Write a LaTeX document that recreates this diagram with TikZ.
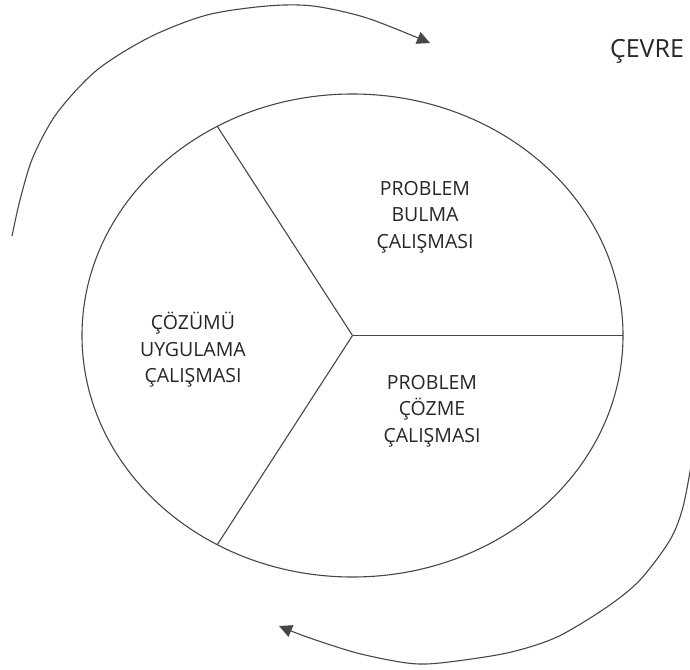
\documentclass[tikz,border=0pt]{standalone}
\usepackage{fontspec}
\setmainfont{Open Sans}
\usetikzlibrary{arrows.meta}
\begin{document}
\begin{tikzpicture}[x=1pt,y=-1pt,
  rim/.style={draw=black!72, line width=1.1pt},
  lbl/.style={align=center, font=\fontsize{19.5}{26.5}\selectfont, text=black!85, inner sep=0pt},
  cyc/.style={rim, -{Triangle[length=13pt,width=12.5pt]}}]
\useasboundingbox (0,0) rectangle (690,669);
% circle and dividers
\coordinate (c) at (352.5,335.5);
\coordinate (r) at (623,335.5);
\coordinate (tl) at (217.3,126.4);
\coordinate (bl) at (217.3,544.6);
\draw[rim] (c) ellipse [x radius=270.5, y radius=241.5];
\draw[rim] (c) -- (r);
\draw[rim] (c) -- (tl);
\draw[rim] (c) -- (bl);
% labels
\node[lbl] (find) at (425,217) {PROBLEM\\BULMA\\ÇALIŞMASI};
\node[lbl] (apply) at (193,350) {ÇÖZÜMÜ\\UYGULAMA\\ÇALIŞMASI};
\node[lbl] (solve) at (432,411) {PROBLEM\\ÇÖZME\\ÇALIŞMASI};
\node[lbl, font=\fontsize{25}{30}\selectfont] (env) at (647,51) {ÇEVRE};
% cycle arrows
\draw[cyc] plot[smooth] coordinates {(12,236) (20,200) (33,157) (57,113) (97,70) (150,37) (207,15) (267,6) (313,6) (367,18) (430,43)};
\draw[cyc] plot[smooth] coordinates {(692,460) (683,507) (670,540) (640,580) (607,607) (557,637) (507,653) (440,663) (407,663) (357,653) (307,637) (279,626)};
\end{tikzpicture}
\end{document}
